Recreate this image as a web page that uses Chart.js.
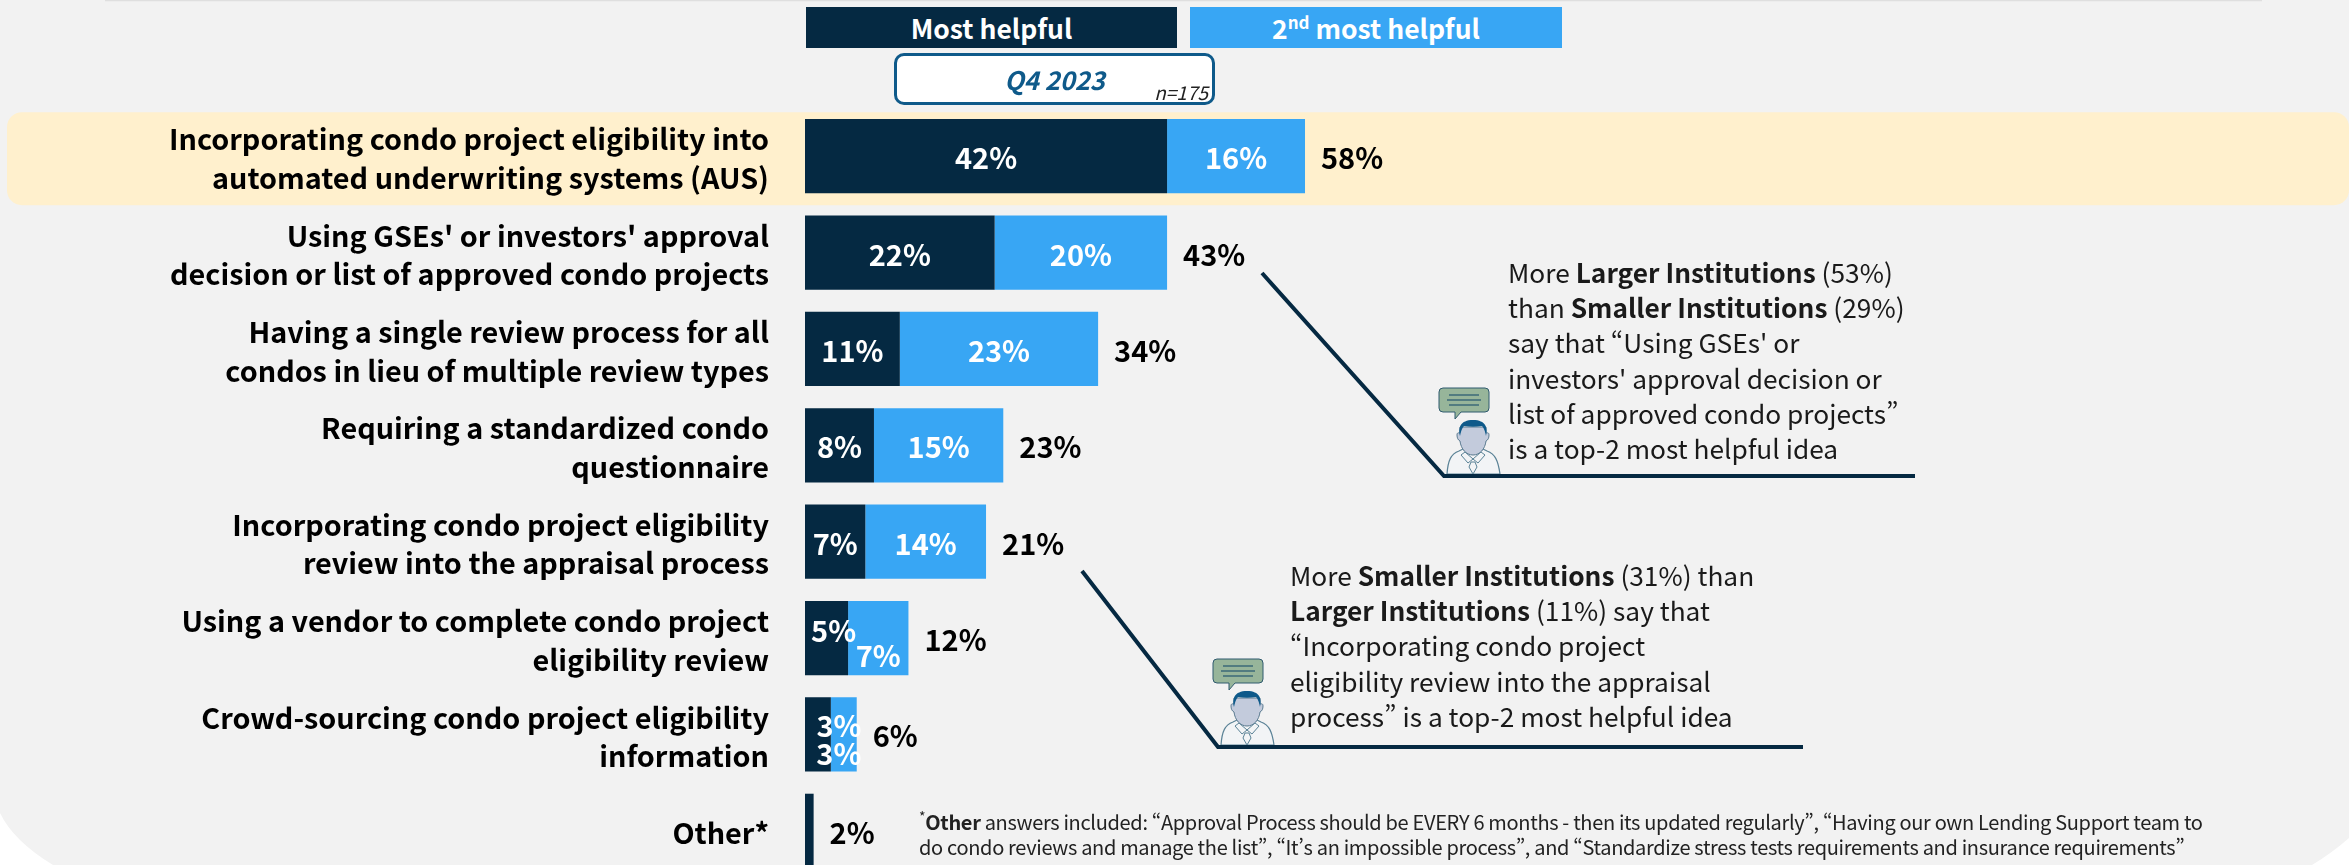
<!DOCTYPE html>
<html>
<head>
<meta charset="utf-8">
<title>Most helpful ideas</title>
<script src="https://cdn.jsdelivr.net/npm/chart.js@4"></script>
<style>
  html, body { margin: 0; width: 2349px; height: 865px; overflow: hidden; background: #fff; }
  body { position: relative; font-family: "Noto Sans CJK SC", "Noto Sans", sans-serif; font-feature-settings: "pwid"; }
  #panel { position: absolute; inset: 0; background: #f2f2f2; }
  #chart, #art { position: absolute; left: 0; top: 0; }
  .key { position: absolute; top: 7px; height: 41px; line-height: 41px; text-align: center; color: #fff; font-weight: 700; font-size: 26.500px; }
  .key sup { font-size: 17px; line-height: 0; }
  #wave { position: absolute; left: 894px; top: 53px; width: 321px; height: 52px; box-sizing: border-box; background: #fff; border: 3px solid #0f5a8a; border-radius: 10px; }
  #wave b { position: absolute; left: 0; right: 0; top: 0; line-height: 46px; text-align: center; font-style: italic; font-size: 25.500px; color: #0f5a8a; }
  #wave i { position: absolute; right: 4px; top: 24px; line-height: 24px; font-size: 19px; color: #222; }
  .note { position: absolute; white-space: nowrap; font-size: 26.300px; line-height: 35.200px; color: #1a1a1a; }
  #foot { position: absolute; left: 919px; top: 809px; white-space: nowrap; font-size: 20px; letter-spacing: -0.330px; line-height: 25px; color: #222; }
  #foot sup { font-size: 14px; line-height: 0; }
</style>
</head>
<body>
<div id="panel"></div>
<canvas id="chart" width="2349" height="900"></canvas>
<svg id="art" width="2349" height="865" viewBox="0 0 2349 865">
  <defs>
    <g id="person">
      <path d="M1439 392a4 4 0 0 1 4-4h42a4 4 0 0 1 4 4v16a4 4 0 0 1-4 4h-24l-6 7v-7h-12a4 4 0 0 1-4-4z" fill="#97b59a" stroke="#2f5a6e" stroke-width="1"/>
      <path d="M1449 395h30M1447 400h34M1449 405h30" stroke="#3d6a78" stroke-width="1.500"/>
      <path d="M1447 474c1-14 4-20 12-23l8-4h12l8 4c8 3 11 9 13 23z" fill="#f2f4f6" stroke="#5a8296" stroke-width="1.200"/>
      <path d="M1460 441c-2-1-3-3-3-6s2-2 3-2v-6h26v6c1 0 3-1 3 2s-1 5-3 6c-1 8-6 14-13 14s-12-6-13-14z" fill="#c3cbdc" stroke="#5a7a90" stroke-width="1"/>
      <path d="M1460 436c-2-8 0-16 13-16s15 8 13 16c-1-5-2-8-4-10-6 1-12 1-18 0-2 2-3 5-4 10z" fill="#0f5a8a"/>
      <path d="M1465 452l8 7 8-7 4 3-7 8-5-4-5 4-7-8zM1471 462h4l2 5-4 7-4-7z" fill="#f2f4f6" stroke="#5a8296" stroke-width="1"/>
    </g>
  </defs>
  <path d="M105 .5H2262" stroke="#dfdfdf" stroke-width="1.500"/>
  <path d="M0 813Q13.500 841 53 865H0Z M2349 838Q2332 853 2312 865H2349Z" fill="#fff"/>
  <use href="#person"/>
  <use href="#person" x="-226" y="271"/>
  <path d="M1262 273L1444 476H1915" fill="none" stroke="#052942" stroke-width="4"/>
  <path d="M1082 571L1218 747H1803" fill="none" stroke="#052942" stroke-width="4"/>
</svg>
<div class="key" style="left:806px;width:371px;background:#052942">Most helpful</div>
<div class="key" style="left:1190px;width:372px;background:#38a6f4">2<sup>nd</sup> most helpful</div>
<div id="wave"><b>Q4 2023</b><i>n=175</i></div>
<div class="note" style="left:1508px;top:254px">More <b>Larger Institutions</b> (53%)<br>than <b>Smaller Institutions</b> (29%)<br>say that “Using GSEs' or<br>investors' approval decision or<br>list of approved condo projects”<br>is a top-2 most helpful idea</div>
<div class="note" style="left:1290px;top:557px">More <b>Smaller Institutions</b> (31%) than<br><b>Larger Institutions</b> (11%) say that<br>“Incorporating condo project<br>eligibility review into the appraisal<br>process” is a top-2 most helpful idea</div>
<div id="foot"><sup>*</sup><b>Other</b> answers included: “Approval Process should be EVERY 6 months - then its updated regularly”, “Having our own Lending Support team to<br>do condo reviews and manage the list”, “It’s an impossible process”, and “Standardize stress tests requirements and insurance requirements”</div>

<script>
const categories = [
  ['Incorporating condo project eligibility into', 'automated underwriting systems (AUS)'],
  ["Using GSEs' or investors' approval", 'decision or list of approved condo projects'],
  ['Having a single review process for all', 'condos in lieu of multiple review types'],
  ['Requiring a standardized condo', 'questionnaire'],
  ['Incorporating condo project eligibility', 'review into the appraisal process'],
  ['Using a vendor to complete condo project', 'eligibility review'],
  ['Crowd-sourcing condo project eligibility', 'information'],
  'Other*'
];
const mostHelpful = [42, 22, 11, 8, 7, 5, 3, 1];
const secondHelpful = [16, 20, 23, 15, 14, 7, 3, 0];
const totals = [58, 43, 34, 23, 21, 12, 6, 2];

const DARK = '#052942';
const BLUE = '#38a6f4';
const FONT = '"Noto Sans CJK SC", "Noto Sans", sans-serif';

// small segments have their labels pushed out of the way, same as the slide
const nudges = {
  '0:5': [7, -9], '1:5': [0, 16],
  '0:6': [21, -10], '1:6': [-5, 18]
};

const rowHighlight = {
  id: 'rowHighlight',
  beforeDraw(chart) {
    const { ctx } = chart;
    const y = chart.scales.y.getPixelForValue(0);
    ctx.save();
    ctx.fillStyle = '#fff0cd';
    ctx.beginPath();
    ctx.roundRect(7, y - 44, 2342, 93, 15);
    ctx.fill();
    ctx.restore();
    // this font sits a bit high on its middle baseline
    chart.scales.y.getLabelItems().forEach(item => { item.options.translation[1] += 2.5; });
  }
};

const valueLabels = {
  id: 'valueLabels',
  afterDatasetsDraw(chart) {
    const { ctx } = chart;
    ctx.save();
    ctx.font = '700 29px ' + FONT;
    ctx.textBaseline = 'middle';
    chart.data.datasets.forEach((ds, d) => {
      chart.getDatasetMeta(d).data.forEach((bar, i) => {
        if (i === 7) return;
        const n = nudges[d + ':' + i] || [0, 0];
        const p = bar.getProps(['x', 'y', 'base'], true);
        ctx.fillStyle = '#fff';
        ctx.textAlign = 'center';
        ctx.fillText(ds.data[i] + '%', (p.x + p.base) / 2 + n[0], p.y + n[1] + 2);
      });
    });
    const last = chart.getDatasetMeta(1).data;
    totals.forEach((t, i) => {
      ctx.fillStyle = '#000';
      ctx.textAlign = 'left';
      ctx.fillText(t + '%', last[i].x + 16, last[i].y + 2);
    });
    ctx.restore();
  }
};

new Chart(document.getElementById('chart'), {
  type: 'bar',
  data: {
    labels: categories,
    datasets: [
      { label: 'Most helpful', data: mostHelpful, backgroundColor: DARK },
      { label: '2nd most helpful', data: secondHelpful, backgroundColor: BLUE }
    ]
  },
  options: {
    indexAxis: 'y',
    responsive: false,
    animation: false,
    barPercentage: 0.77,
    categoryPercentage: 1,
    layout: { padding: { top: 108, bottom: 21, left: 0, right: 0 } },
    plugins: { legend: { display: false }, tooltip: { enabled: false } },
    scales: {
      x: { stacked: true, display: false, min: 0, max: 179.1 },
      y: {
        stacked: true,
        // the first and last labels must not squeeze the plot area
        afterFit: s => { s.width = 805; s.paddingTop = 0; s.paddingBottom = 0; },
        grid: { display: false, drawTicks: false },
        border: { display: false },
        ticks: {
          color: '#000',
          padding: 36,
          autoSkip: false,
          font: { family: FONT, weight: '700', size: 28.8, lineHeight: 1.34 }
        }
      }
    }
  },
  plugins: [rowHighlight, valueLabels]
});
</script>
</body>
</html>
